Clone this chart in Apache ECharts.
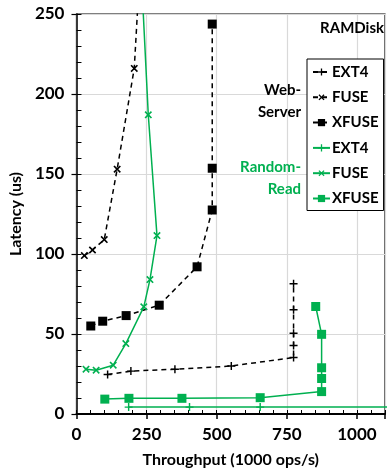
<!DOCTYPE html>
<html>
<head>
<meta charset="utf-8">
<script src="https://cdn.jsdelivr.net/npm/echarts@6/dist/echarts.min.js"></script>
<style>
  html, body { margin: 0; padding: 0; background: #fff; }
  #chart { width: 388px; height: 473px; }
</style>
</head>
<body>
<div id="chart"></div>
<script>
document.addEventListener('DOMContentLoaded', function() {

/* DATOS: [throughput (1000 ops/s), latency (us)] */
var wsExt4 = [[111,24.7],[194,26.8],[351,28],[552,30],[774,35.3],[774,42.8],[774,50.5],[774,65.2],[774,81.4]];
var wsFuse = [[28,99],[57,102.5],[99,109],[145,153],[206,216],[225,275]];
var wsXfuse = [[51,55],[93.5,58],[177,61.5],[295,68],[430,92],[484,127.5],[484,153.6],[484,243.7]];
var rrExt4 = [[186,4.3],[403,4.3],[655,4.3],[1400,4.5]];
var rrFuse = [[34,28],[70,27.4],[131,30.5],[176,44],[240,67],[262,84],[287,111.5],[256,187],[232,272]];
var rrXfuse = [[101,9.3],[187,9.8],[376,9.8],[655,10.2],[874,14],[874,22.2],[874,28.9],[874,49.8],[853,67.2]];

var xTicks = [0, 250, 500, 750, 1000];
var yTicks = [0, 50, 100, 150, 200, 250];

var GREEN = '#00B050';
var FONT = 'Lato';
var PLUS = 'path://M4.1,0H5.9V4.1H10V5.9H5.9V10H4.1V5.9H0V4.1H4.1Z';

function serie(nombre, datos, color, dashed, symbol, size, rotate) {
	return {
		name: nombre,
		type: 'line',
		data: datos,
		symbol: symbol,
		symbolSize: size,
		symbolRotate: rotate || 0,
		showAllSymbol: true,
		clip: true,
		lineStyle: { color: color, width: 1.5, type: dashed ? [5, 4] : 'solid' },
		itemStyle: { color: color },
		emphasis: { disabled: true },
		z: 3
	};
}

function texto(txt, x, y, color, align) {
	return {
		type: 'text', x: x, y: y, z: 10,
		style: {
			text: txt, align: align, verticalAlign: 'middle', lineHeight: 22,
			fontFamily: FONT, fontWeight: 'bold', fontSize: 15, fill: color
		}
	};
}

var myChart = echarts.init(document.getElementById('chart'));

var option = {
	animation: false,
	grid: { left: 69.5, top: 14, width: 320, height: 401.7, show: true, borderColor: '#000', borderWidth: 1.2 },
	legend: {
		orient: 'vertical',
		left: 307, top: 59,
		padding: [5, 5, 4, 5],
		itemGap: 9.3,
		itemWidth: 17, itemHeight: 9,
		backgroundColor: '#fff',
		borderColor: '#000', borderWidth: 1,
		selectedMode: false,
		textStyle: { fontFamily: FONT, fontWeight: 'bold', fontSize: 15, color: '#000', lineHeight: 16, padding: [0, 0, 0, -3] },
		formatter: function (n) { return n.split(' ')[1]; },
		data: ['WS EXT4', 'WS FUSE', 'WS XFUSE', 'RR EXT4', 'RR FUSE', 'RR XFUSE']
	},
	xAxis: [{
		type: 'value', min: 0, max: 1100, interval: 250,
		name: 'Throughput (1000 ops/s)', nameLocation: 'middle', nameGap: 38,
		nameTextStyle: { fontFamily: FONT, fontWeight: 'bold', fontSize: 16, color: '#000' },
		axisLine: { lineStyle: { color: '#000', width: 2 } },
		axisTick: { show: true, length: 5, lineStyle: { color: '#000', width: 1.5 } },
		axisLabel: {
			margin: 12, fontFamily: FONT, fontWeight: 'bold', fontSize: 17, color: '#000',
			formatter: function (v) { return xTicks.indexOf(v) >= 0 ? String(v) : ''; }
		},
		splitLine: { show: true, lineStyle: { color: '#d9d9d9', width: 1.2 } }
	}, {
		type: 'value', min: 0, max: 1100, interval: 50, position: 'bottom',
		axisLine: { show: false },
		axisTick: { show: true, inside: true, length: 4, lineStyle: { color: '#000', width: 1 } },
		axisLabel: { show: false },
		splitLine: { show: false }
	}],
	yAxis: [{
		type: 'value', min: 0, max: 250, interval: 50,
		name: 'Latency (us)', nameLocation: 'middle', nameGap: 45,
		nameTextStyle: { fontFamily: FONT, fontWeight: 'bold', fontSize: 16, color: '#000' },
		axisLine: { show: true, lineStyle: { color: '#000', width: 1.5 } },
		axisTick: { show: true, length: 5, lineStyle: { color: '#000', width: 1.2 } },
		axisLabel: {
			margin: 12, fontFamily: FONT, fontWeight: 'bold', fontSize: 17, color: '#000',
			formatter: function (v) { return yTicks.indexOf(v) >= 0 ? String(v) : ''; }
		},
		splitLine: { show: true, lineStyle: { color: '#d9d9d9', width: 1.2 } }
	}, {
		type: 'value', min: 0, max: 250, interval: 10, position: 'left',
		axisLine: { show: false },
		axisTick: { show: true, inside: true, length: 5, lineStyle: { color: '#000', width: 1 } },
		axisLabel: { show: false },
		splitLine: { show: false }
	}],
	graphic: [
		texto('RAMDisk', 384, 28, '#000', 'right'),
		texto('Web-\nServer', 301, 101, '#000', 'right'),
		texto('Random-\nRead', 301, 178, GREEN, 'right')
	],
	series: [
		serie('WS EXT4', wsExt4, '#000', true, PLUS, 8),
		serie('WS FUSE', wsFuse, '#000', true, PLUS, 9, 45),
		serie('WS XFUSE', wsXfuse, '#000', true, 'rect', 9),
		serie('RR EXT4', rrExt4, GREEN, false, PLUS, 8),
		serie('RR FUSE', rrFuse, GREEN, false, PLUS, 9, 45),
		serie('RR XFUSE', rrXfuse, GREEN, false, 'rect', 9)
	]
};

myChart.setOption(option);

});
</script>
</body>
</html>
